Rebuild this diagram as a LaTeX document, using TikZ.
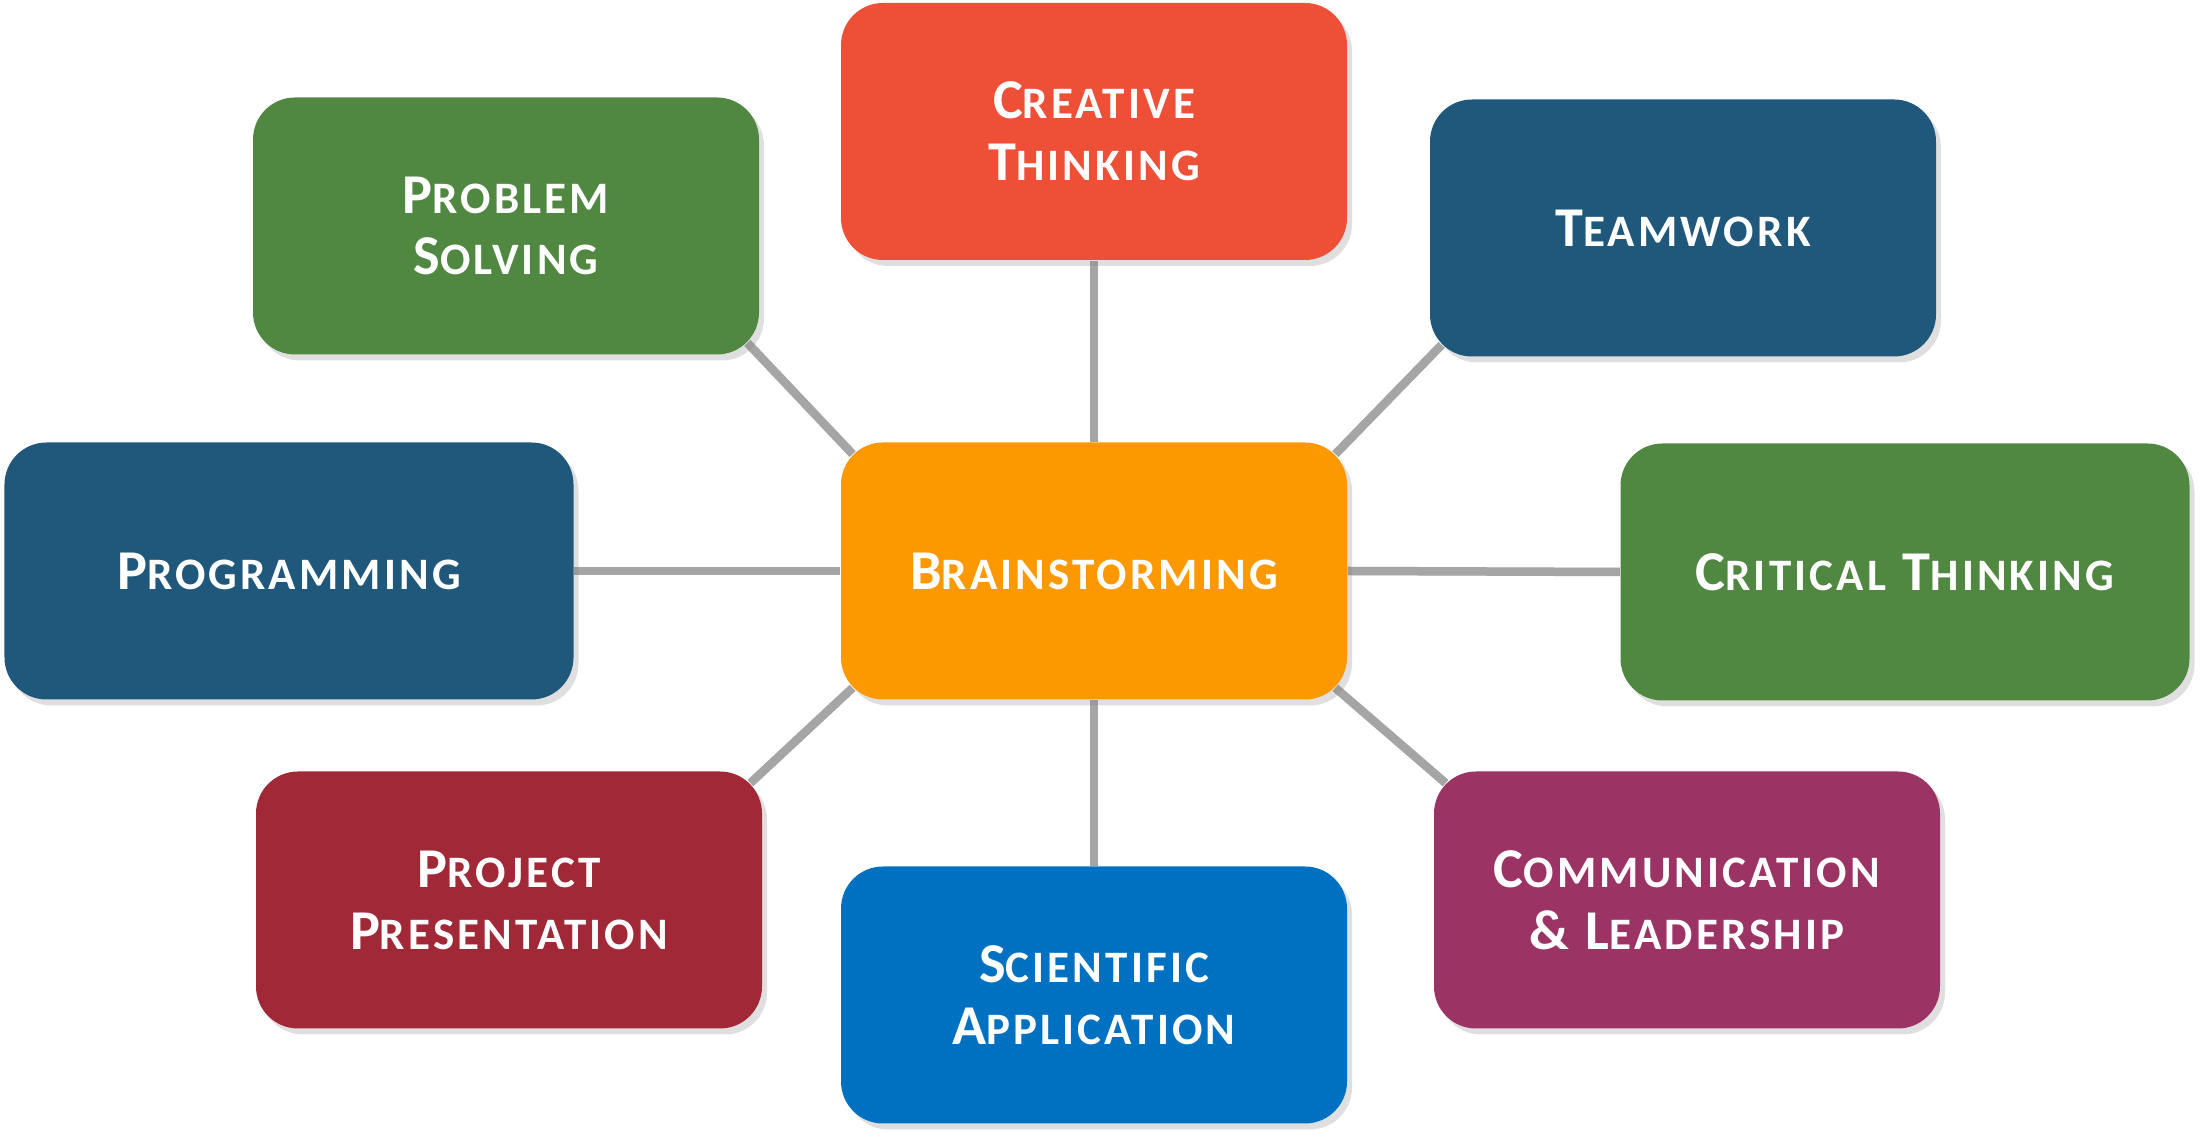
\documentclass[tikz,border=0pt]{standalone}
\usepackage{fontspec}
\setmainfont[LetterSpace=7]{Carlito}
\usetikzlibrary{shadows,calc,backgrounds}
\definecolor{cred}{RGB}{237,80,55}
\definecolor{cgreen}{RGB}{80,136,66}
\definecolor{cdblue}{RGB}{31,88,122}
\definecolor{corange}{RGB}{253,153,0}
\definecolor{cdred}{RGB}{161,40,54}
\definecolor{cblue}{RGB}{0,112,192}
\definecolor{cpurple}{RGB}{155,52,100}
\definecolor{linkgray}{RGB}{165,165,165}
\newcommand\SCap[2]{#1{\fontsize{12.8}{17.6}\selectfont #2}}
\begin{document}
\begin{tikzpicture}[
  box/.style={rounded corners=0.42cm, minimum width=5.06cm, minimum height=2.57cm,
    inner sep=0pt, text=white, align=center,
    font=\bfseries\fontsize{16}{17.6}\selectfont,
    drop shadow={shadow xshift=0.05cm, shadow yshift=-0.06cm, opacity=0.25}},
  widebox/.style={box, minimum width=5.69cm},
  link/.style={line width=0.085cm, draw=linkgray},
  linkshadow/.style={line width=0.085cm, draw=black, opacity=0.12}
]
\useasboundingbox (0,0) rectangle (22.04,11.40);

\node[box, fill=cred] (creative) at (10.94,10.085) {\SCap{C}{REATIVE}\\\SCap{T}{HINKING}};
\node[box, fill=cgreen] (problem) at (5.06,9.14) {\SCap{P}{ROBLEM}\\\SCap{S}{OLVING}};
\node[box, fill=cdblue] (teamwork) at (16.83,9.12) {\SCap{T}{EAMWORK}};
\node[widebox, fill=cdblue] (programming) at (2.89,5.69) {\SCap{P}{ROGRAMMING}};
\node[box, fill=corange] (brain) at (10.94,5.69) {\SCap{B}{RAINSTORMING}};
\node[widebox, fill=cgreen] (critical) at (19.05,5.68) {\SCap{C}{RITICAL} \SCap{T}{HINKING}};
\node[box, fill=cdred] (project) at (5.09,2.40) {\SCap{P}{ROJECT}\\\SCap{P}{RESENTATION}};
\node[box, fill=cblue] (scientific) at (10.94,1.45) {\SCap{S}{CIENTIFIC}\\\SCap{A}{PPLICATION}};
\node[box, fill=cpurple] (comm) at (16.87,2.40) {\SCap{C}{OMMUNICATION}\\\& \SCap{L}{EADERSHIP}};

\begin{scope}[on background layer]
  \foreach \sx/\sy/\st in {0.03/-0.04/linkshadow, 0/0/link} {
    \begin{scope}[shift={(\sx,\sy)}]
    \draw[\st] (creative.south) -- (brain.north);
    \draw[\st] (brain.south) -- (scientific.north);
    \draw[\st] (programming.east) -- (brain.west);
    \draw[\st] (brain.east) -- (critical.west);
    \draw[\st] ($(problem.south east)+(-0.123,0.123)$) -- ($(brain.north west)+(0.123,-0.123)$);
    \draw[\st] ($(teamwork.south west)+(0.123,0.123)$) -- ($(brain.north east)+(-0.123,-0.123)$);
    \draw[\st] ($(project.north east)+(-0.123,-0.123)$) -- ($(brain.south west)+(0.123,0.123)$);
    \draw[\st] ($(comm.north west)+(0.123,-0.123)$) -- ($(brain.south east)+(-0.123,0.123)$);
    \end{scope}
  }
\end{scope}
\end{tikzpicture}
\end{document}
